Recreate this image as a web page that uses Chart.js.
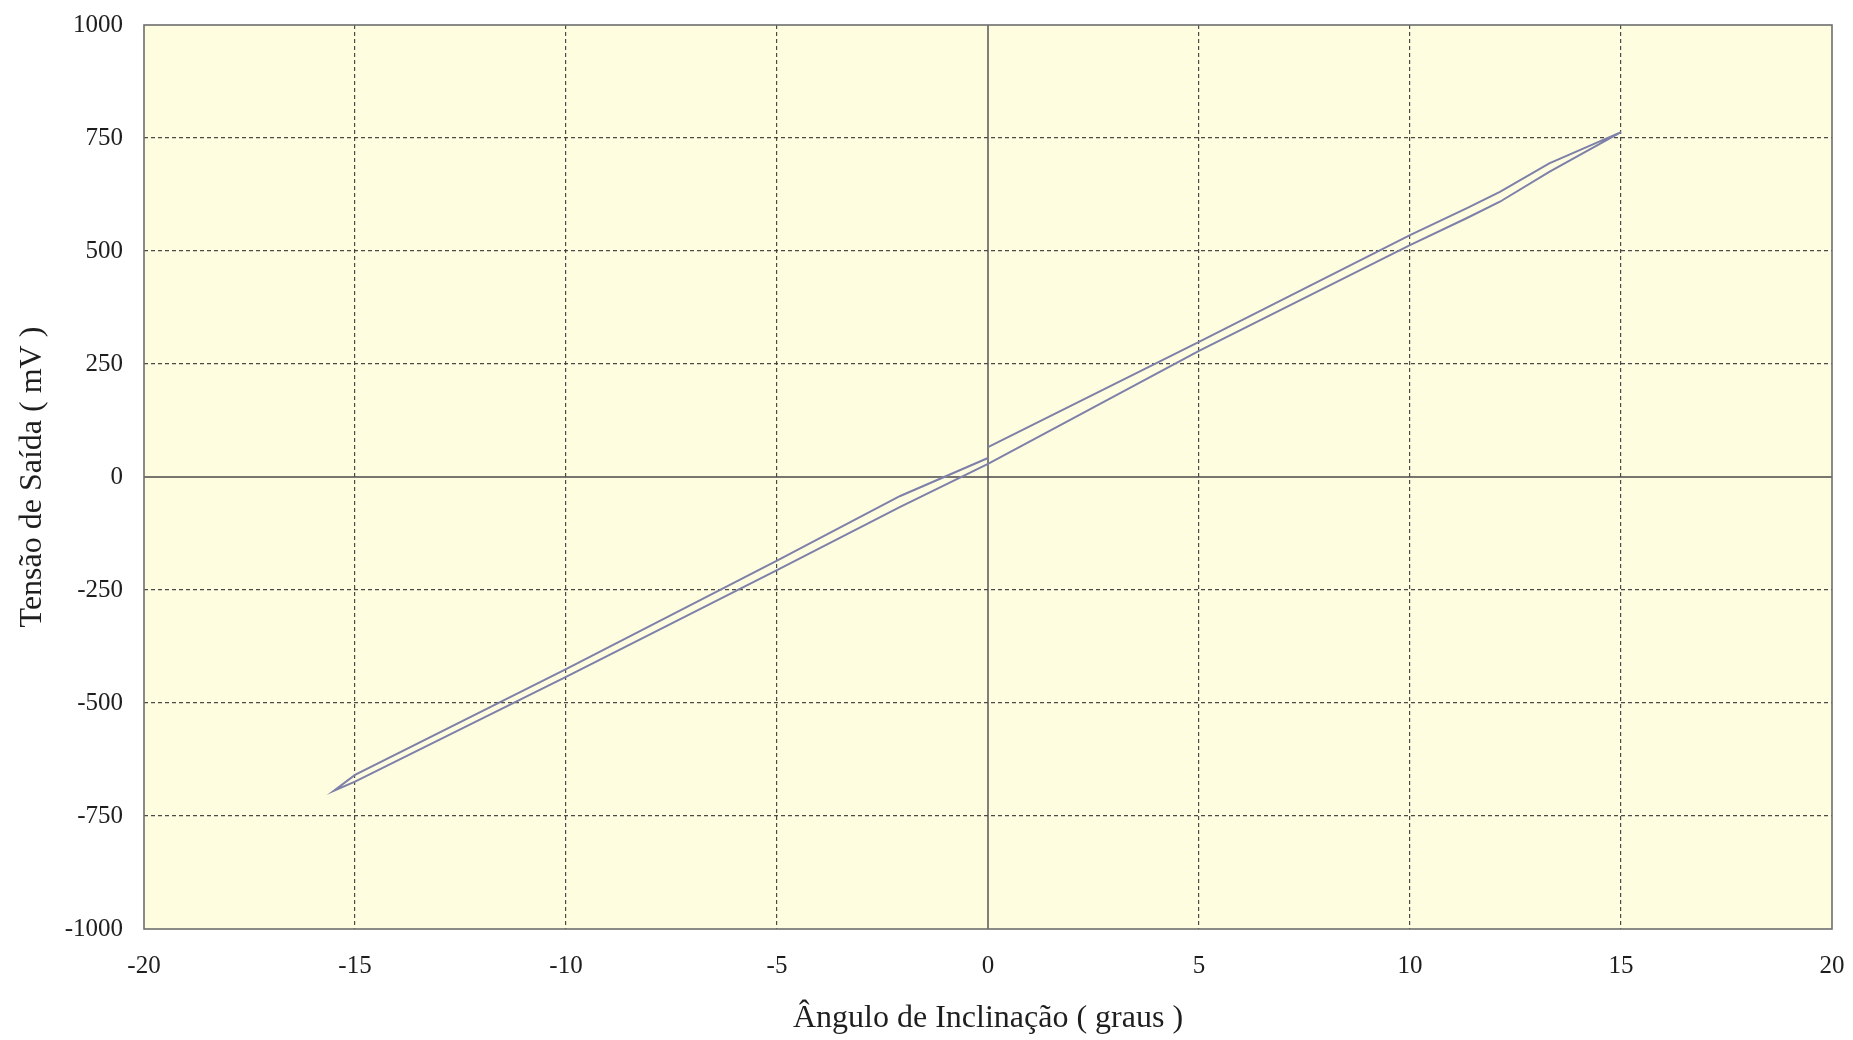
<!DOCTYPE html>
<html>
<head>
<meta charset="utf-8">
<script src="https://cdn.jsdelivr.net/npm/chart.js@4/dist/chart.umd.min.js"></script>
<style>
  html, body { margin: 0; padding: 0; background: #ffffff; }
  #wrap { width: 1853px; height: 1040px; }
</style>
</head>
<body>
<div id="wrap"><canvas id="loopChart"></canvas></div>
<script>
// leituras do gráfico (ângulo em graus, tensão em mV)
const ascendRightAngle = [0, 5, 10, 11.35, 12.13, 13.3, 15];
const ascendRightMv = [66, 299, 535, 595, 631, 694, 763];

const descendAngle = [15, 13.3, 12.13, 11.35, 10, 5, 0, -2.08, -5, -10, -15, -15.5];
const descendMv = [763, 675, 609, 573, 513, 279, 29, -66, -206, -442, -674, -694];

const ascendLeftAngle = [-15.5, -15, -10, -5, -2.08, 0];
const ascendLeftMv = [-694, -659, -425, -185, -42, 42];

const xTicks = [-20, -15, -10, -5, 0, 5, 10, 15, 20];
const yTicks = [-1000, -750, -500, -250, 0, 250, 500, 750, 1000];

const toPoints = (xs, ys) => xs.map((x, i) => ({ x: x, y: ys[i] }));

const loop = []
  .concat(toPoints(ascendRightAngle, ascendRightMv))
  .concat(toPoints(descendAngle, descendMv).slice(1))
  .concat(toPoints(ascendLeftAngle, ascendLeftMv).slice(1));

const serif = 'Liberation Serif, Times New Roman, serif';

// fundo amarelo, eixos do zero e moldura
const plotFrame = {
  id: 'plotFrame',
  beforeDraw(chart) {
    const { ctx, chartArea: a } = chart;
    ctx.save();
    ctx.fillStyle = '#fffde0';
    ctx.fillRect(a.left, a.top, a.right - a.left, a.bottom - a.top);
    ctx.restore();
  },
  beforeDatasetsDraw(chart) {
    const { ctx, chartArea: a, scales } = chart;
    const x0 = scales.x.getPixelForValue(0);
    const y0 = scales.y.getPixelForValue(0);
    ctx.save();
    ctx.strokeStyle = '#4a4a4a';
    ctx.lineWidth = 1.4;
    ctx.beginPath();
    ctx.moveTo(x0, a.top); ctx.lineTo(x0, a.bottom);
    ctx.moveTo(a.left, y0); ctx.lineTo(a.right, y0);
    ctx.stroke();
    ctx.strokeStyle = '#6e6e6e';
    ctx.lineWidth = 1.6;
    ctx.strokeRect(a.left, a.top, a.right - a.left, a.bottom - a.top);
    ctx.restore();
  }
};

const gridColor = ctx => {
  const v = ctx.tick ? ctx.tick.value : null;
  if (v === 0 || v === -20 || v === 20 || v === -1000 || v === 1000) return 'rgba(0,0,0,0)';
  return 'rgba(55,55,55,0.9)';
};

new Chart(document.getElementById('loopChart'), {
  type: 'scatter',
  data: {
    datasets: [{
      label: 'Tensão de Saída',
      data: loop,
      showLine: true,
      borderColor: '#7d80a8',
      borderWidth: 2,
      pointRadius: 0,
      tension: 0,
      fill: false
    }]
  },
  options: {
    responsive: true,
    maintainAspectRatio: false,
    animation: false,
    layout: { padding: { top: 25, right: 21, left: 0, bottom: 0 } },
    plugins: {
      legend: { display: false },
      tooltip: { enabled: false }
    },
    scales: {
      x: {
        type: 'linear',
        min: -20,
        max: 20,
        afterFit: scale => {
          scale.height = 111;
          scale.paddingLeft = 0;
          scale.paddingRight = 0;
        },
        afterBuildTicks: scale => { scale.ticks = xTicks.map(v => ({ value: v })); },
        ticks: {
          padding: 22,
          color: '#1e1e1e',
          font: { family: serif, size: 25 },
          callback: v => String(v)
        },
        grid: { color: gridColor, lineWidth: 1.2, drawTicks: false },
        border: { display: false, dash: [4, 3] },
        title: {
          display: true,
          text: 'Ângulo de Inclinação ( graus )',
          color: '#1e1e1e',
          font: { family: serif, size: 32 },
          padding: { top: 0, bottom: 2 }
        }
      },
      y: {
        type: 'linear',
        min: -1000,
        max: 1000,
        afterFit: scale => {
          scale.width = 144;
          scale.paddingTop = 0;
          scale.paddingBottom = 0;
        },
        afterBuildTicks: scale => { scale.ticks = yTicks.map(v => ({ value: v })); },
        ticks: {
          padding: 21,
          color: '#1e1e1e',
          font: { family: serif, size: 25 },
          callback: v => String(v)
        },
        grid: { color: gridColor, lineWidth: 1.2, drawTicks: false },
        border: { display: false, dash: [4, 3] },
        title: {
          display: true,
          text: 'Tensão de Saída ( mV )',
          color: '#1e1e1e',
          font: { family: serif, size: 32 },
          padding: { top: 13, bottom: 0 }
        }
      }
    }
  },
  plugins: [plotFrame]
});
</script>
</body>
</html>
